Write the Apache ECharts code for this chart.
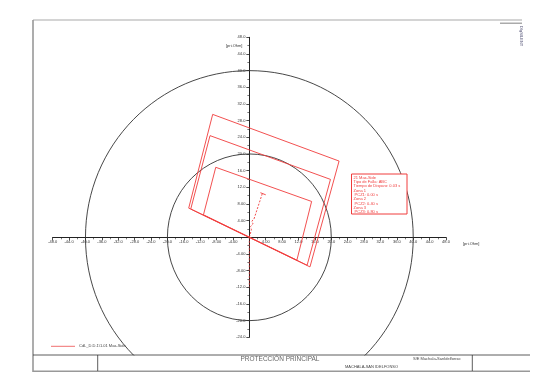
<!DOCTYPE html>
<html><head><meta charset="utf-8">
<script src="https://cdn.jsdelivr.net/npm/echarts@6/dist/echarts.min.js"></script>
<style>html,body{margin:0;padding:0;background:#fff}#c{width:540px;height:382px}</style>
</head><body><div id="c"></div>
<script>
// ---- data ----
const xRange = [-48, 48];
const yRange = [-24, 48];
const tickStep = 4;
const circleRadii = [20, 40];
const zone1 = [[-11.2, 5.4], [-8.2, 16.8], [15.2, 8.6], [11.6, -5.5], [-11.2, 5.4]];
const zone2 = [[-14.3, 6.8], [-9.6, 24.4], [19.8, 13.9], [14.1, -6.7], [-14.3, 6.8]];
const zone3 = [[-14.8, 7.0], [-8.95, 29.5], [21.9, 18.3], [14.8, -7.1], [-14.8, 7.0]];
const faultPath = [[0, 0], [0.5, 1.8], [0.3, 2.6], [0.9, 3.2], [0.6, 3.9], [1.1, 4.3], [3.2, 10.6]];
const faultEndMark = [[2.7, 10.7], [4.0, 10.2]];
const negPath = [[0, 0], [0, -12]];
const infoLines = ['21 Max-Side', 'Tipo de Falla: ABC', 'Tiempo de Disparo: 0.03 s', 'Zona 1', ' PCZ1: 0.00 s', 'Zona 2', ' PCZ2: 0.40 s', 'Zona 3', ' PCZ3: 0.80 s'];
const legendText = 'CdL_D.D.1\\1.01 Max-Side';
const unitLabel = '[pri.Ohm]';
const titleMain = 'PROTECCIÓN PRINCIPAL';
const titleSub1 = 'S/E Machala-SanIdelfonso';
const titleSub2 = 'MACHALA-SAN IDELFONSO';

const RED = '#f03c3c';
const FONT = 'Liberation Sans';
const fmt = v => v === 0 ? '' : (Math.abs(v) < 10 ? v.toFixed(2) : v.toFixed(1));

const G = {left: 52.7, right: 94, top: 37.3, bottom: 44.7};
const W = 540, H = 382;
const gw = W - G.left - G.right, gh = H - G.top - G.bottom;
const xOffset = -gh * (0 - yRange[0]) / (yRange[1] - yRange[0]);   // move x axis up to y=0
const yOffset = -gw * (0 - xRange[0]) / (xRange[1] - xRange[0]);   // move y axis right to x=0

const chart = echarts.init(document.getElementById('c'), null, {renderer: 'canvas'});

function zoneSeries(d) {
  return {type: 'line', data: d, showSymbol: false, symbol: 'none', silent: true, clip: false,
    lineStyle: {color: RED, width: 0.9}, z: 5, animation: false};
}

const axisCommon = {
  type: 'value', interval: tickStep,
  axisLine: {onZero: false, lineStyle: {color: '#222', width: 1}},
  axisTick: {show: true, length: 3, lineStyle: {color: '#222', width: 0.8}},
  minorTick: {show: true, splitNumber: 2, length: 2, lineStyle: {color: '#222', width: 0.6}},
  splitLine: {show: false},
  axisLabel: {fontSize: 4, color: '#333', fontFamily: FONT, formatter: fmt, margin: 3, showMinLabel: true, showMaxLabel: true}
};

chart.setOption({
  animation: false,
  grid: Object.assign({containLabel: false}, G),
  xAxis: Object.assign({}, axisCommon, {min: xRange[0], max: xRange[1], position: 'bottom', offset: xOffset}),
  yAxis: Object.assign({}, axisCommon, {min: yRange[0], max: yRange[1], position: 'left', offset: yOffset,
    axisLabel: Object.assign({}, axisCommon.axisLabel, {margin: 4})}),
  series: [
    {
      type: 'custom', coordinateSystem: 'cartesian2d', clip: false, z: 3, silent: true,
      data: circleRadii.map(r => [0, 0, r]),
      renderItem: function (params, api) {
        const c = api.coord([api.value(0), api.value(1)]);
        const r = api.value(2);
        const rx = api.size([r, 0])[0];
        const ry = api.size([0, r])[1];
        return {type: 'ellipse', shape: {cx: c[0], cy: c[1], rx: rx, ry: ry},
          style: {fill: 'none', stroke: '#333', lineWidth: 0.9}};
      }
    },
    zoneSeries(zone1), zoneSeries(zone2), zoneSeries(zone3),
    {type: 'line', data: faultPath, showSymbol: false, symbol: 'none', clip: false, silent: true,
      lineStyle: {color: RED, width: 0.9, type: [2, 1.5]}, z: 6},
    {type: 'line', data: faultEndMark, showSymbol: false, symbol: 'none', clip: false, silent: true,
      lineStyle: {color: RED, width: 0.9}, z: 6},
    {type: 'line', data: negPath, showSymbol: false, symbol: 'none', clip: false, silent: true,
      lineStyle: {color: '#c03030', width: 0.9, type: [2, 1.5]}, z: 6}
  ],
  graphic: [
    {type: 'rect', z: 50, shape: {x: 0, y: 355.5, width: 540, height: 27}, style: {fill: '#fff'}},
    {type: 'text', z: 60, left: 463, top: 241.5, style: {text: unitLabel, fontSize: 4, fill: '#333', fontFamily: FONT}},
    {type: 'text', z: 60, left: 226, top: 43.5, style: {text: unitLabel, fontSize: 4, fill: '#333', fontFamily: FONT}},
    {type: 'rect', z: 60, shape: {x: 351.5, y: 174, width: 55.5, height: 40}, style: {fill: '#fff', stroke: RED, lineWidth: 1}},
    {type: 'text', z: 61, x: 353.5, y: 175.5, style: {text: infoLines.join('\n'), fontSize: 4, lineHeight: 4.3, fill: RED, fontFamily: FONT}},
    {type: 'line', z: 60, shape: {x1: 51, y1: 346.3, x2: 75, y2: 346.3}, style: {stroke: '#f07070', lineWidth: 1}},
    {type: 'text', z: 60, x: 79, y: 344.3, style: {text: legendText, fontSize: 4, fill: '#444', fontFamily: FONT}},
    {type: 'line', z: 60, shape: {x1: 33, y1: 20, x2: 522, y2: 20}, style: {stroke: '#aaa', lineWidth: 1.2}},
    {type: 'line', z: 60, shape: {x1: 33, y1: 20, x2: 33, y2: 372}, style: {stroke: '#999', lineWidth: 1.6}},
    {type: 'line', z: 60, shape: {x1: 33, y1: 371.2, x2: 530, y2: 371.2}, style: {stroke: '#999', lineWidth: 1.6}},
    {type: 'line', z: 60, shape: {x1: 33, y1: 355, x2: 530, y2: 355}, style: {stroke: '#333', lineWidth: 0.8}},
    {type: 'line', z: 60, shape: {x1: 97.7, y1: 355, x2: 97.7, y2: 371}, style: {stroke: '#333', lineWidth: 0.8}},
    {type: 'line', z: 60, shape: {x1: 472.3, y1: 355, x2: 472.3, y2: 371}, style: {stroke: '#333', lineWidth: 0.8}},
    {type: 'rect', z: 60, shape: {x: 500, y: 22.5, width: 22, height: 1.5}, style: {fill: '#aaa'}},
    {type: 'text', z: 61, x: 280, y: 359.5, style: {text: titleMain, fontSize: 6.5, fill: '#666', fontFamily: FONT, align: 'center', verticalAlign: 'middle'}},
    {type: 'text', z: 61, x: 413, y: 356.5, style: {text: titleSub1, fontSize: 4, fill: '#444', fontFamily: FONT}},
    {type: 'text', z: 61, x: 345, y: 365, style: {text: titleSub2, fontSize: 4, fill: '#444', fontFamily: FONT}},
    {type: 'text', z: 61, x: 519, y: 26, rotation: -Math.PI / 2, originX: 0, originY: 0,
      style: {text: 'DIgSILENT', fontSize: 4, fill: '#557', fontFamily: FONT, align: 'left', verticalAlign: 'bottom'}}
  ]
});
</script></body></html>
